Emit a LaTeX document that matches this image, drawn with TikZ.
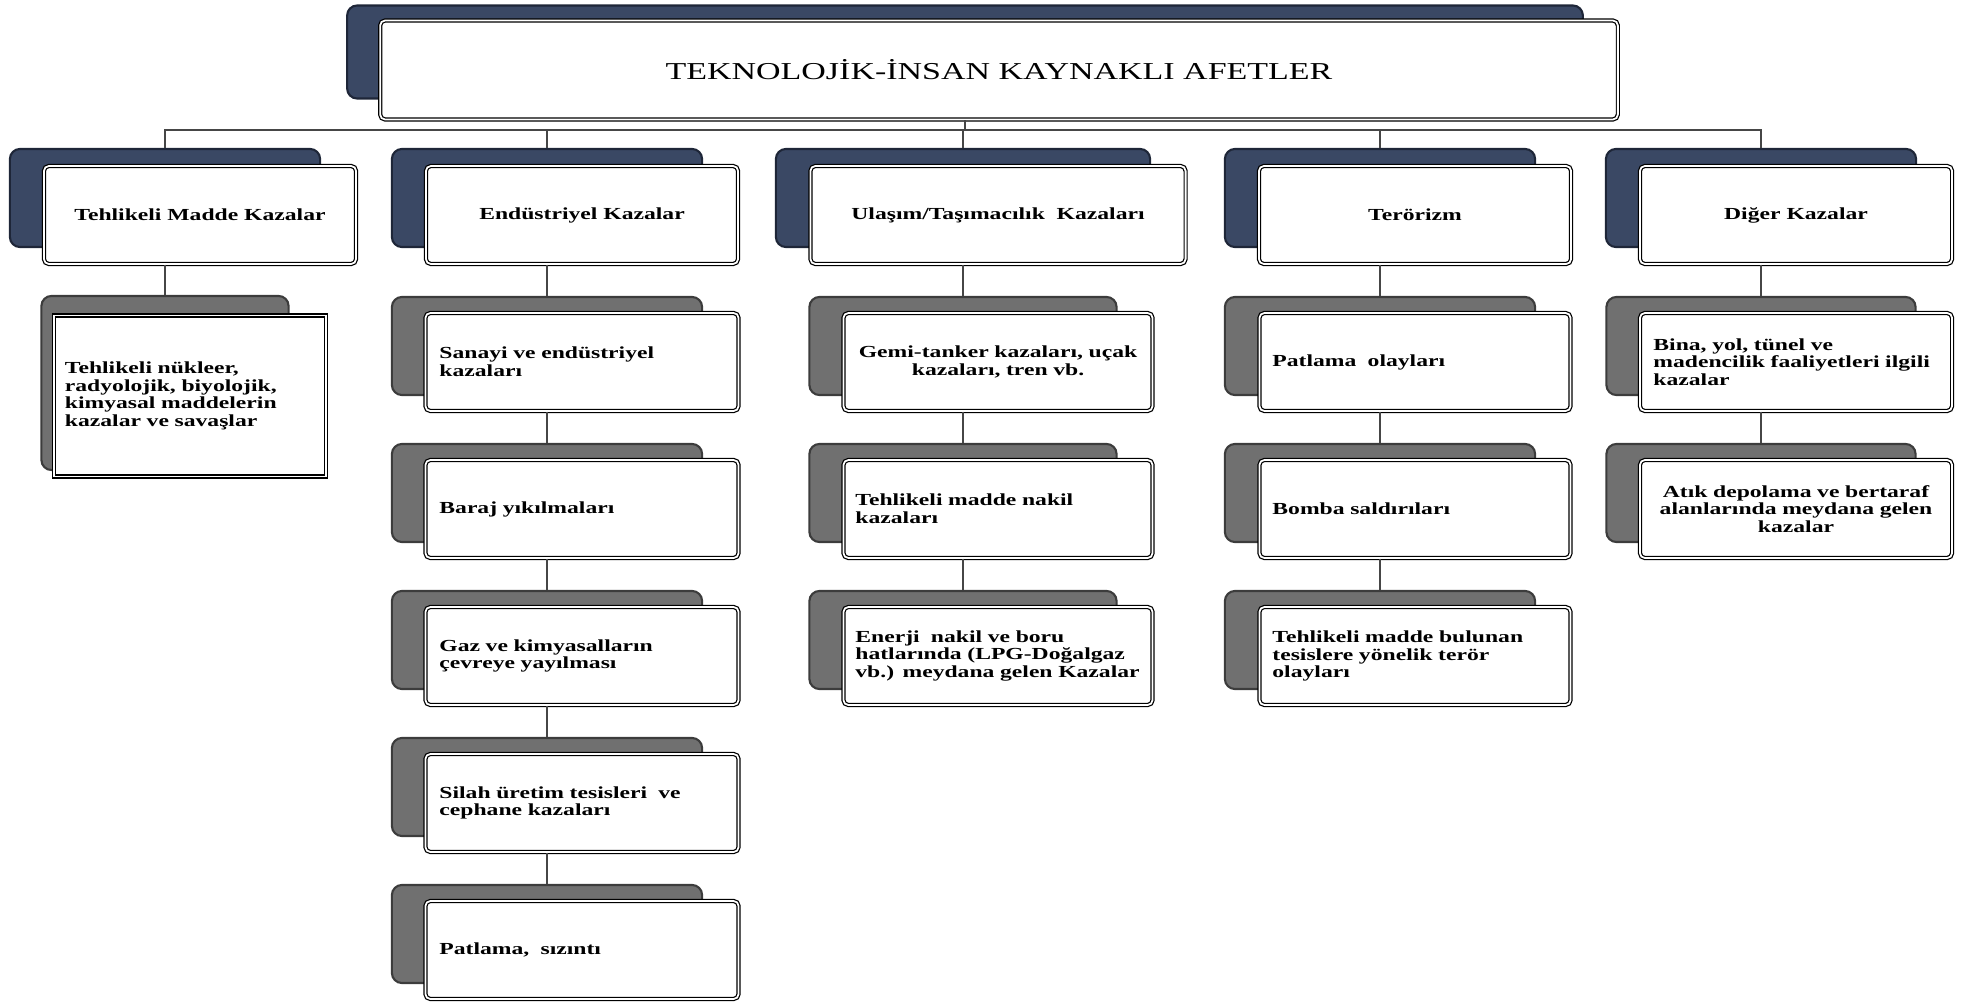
\documentclass[tikz,border=0pt]{standalone}
\usepackage{fontspec}
\setmainfont{Liberation Serif}[FakeStretch=1.4]
\usepackage{tikz}
\usetikzlibrary{positioning, calc}
\definecolor{navy}{RGB}{58,72,100}
\definecolor{navyedge}{RGB}{30,38,56}
\definecolor{subgray}{RGB}{112,112,112}
\definecolor{grayedge}{RGB}{60,60,60}
\definecolor{linkgray}{RGB}{70,70,70}

\begin{document}
\begin{tikzpicture}[x=0.01cm, y=-0.01cm,
    back/.style={rounded corners=0.1cm, minimum height=0.98cm, inner sep=0pt, line width=0.6pt},
    topback/.style={back, fill=navy, draw=navyedge},
    subback/.style={back, fill=subgray, draw=grayedge},
    front/.style={draw=black, double=white, double distance=0.5pt, line width=0.35pt, fill=white, rounded corners=0.05cm, minimum height=0.98cm, inner xsep=0.12cm, inner ysep=0pt},
    head/.style={front, font=\fontsize{4.8}{5.5}\selectfont\bfseries, align=center},
    item/.style={front, font=\fontsize{4.8}{5}\selectfont\bfseries, text width=2.85cm, align=left},
    link/.style={draw=linkgray, line width=0.8pt},
    buslink/.style={draw=linkgray, line width=0.55pt}]
    \useasboundingbox (0,0) rectangle (1966,1003);

    % Title
    \node[topback, minimum width=12.35cm, minimum height=0.93cm] (TB) at (965,52) {};
    \node[front, minimum width=12.37cm, minimum height=0.99cm, font=\fontsize{6.9}{8}\selectfont] (T) at (999,70) {TEKNOLOJİK-İNSAN KAYNAKLI AFETLER};

    % Main groups
    \node[topback, minimum width=3.1cm] (L1) at (165,198) {};
    \node[head, minimum width=3.12cm] (H1) at ([shift={(35,17)}]L1) {Tehlikeli Madde Kazalar};
    \node[topback, minimum width=3.1cm] (L2) at (547,198) {};
    \node[head, minimum width=3.12cm] (H2) at ([shift={(35,17)}]L2) {Endüstriyel Kazalar};
    \node[topback, minimum width=3.74cm] (L3) at (963,198) {};
    \node[head, minimum width=3.75cm] (H3) at ([shift={(35,17)}]L3) {Ulaşım/Taşımacılık\ \ Kazaları};
    \node[topback, minimum width=3.1cm] (L4) at (1380,198) {};
    \node[head, minimum width=3.12cm] (H4) at ([shift={(35,17)}]L4) {Terörizm};
    \node[topback, minimum width=3.1cm] (L5) at (1761,198) {};
    \node[head, minimum width=3.12cm] (H5) at ([shift={(35,17)}]L5) {Diğer Kazalar};

    % Title to groups
    \coordinate (bus) at (965,130);
    \foreach \i in {1,...,5}
      \draw[buslink] (T.south -| TB) |- (bus -| L\i) -- (L\i.north);

    % Tehlikeli madde
    \node[subback, minimum width=2.47cm, minimum height=1.74cm] (G11) at (165,383) {};
    \node[item, sharp corners, text width=2.5cm, minimum height=1.61cm, inner xsep=0.11cm] (S11) at (190,396) {Tehlikeli nükleer,\\radyolojik, biyolojik,\\kimyasal maddelerin\\kazalar ve savaşlar};
    \draw[link] (H1.south -| L1) -- (G11.north);

    % Endustriyel
    \node[subback, minimum width=3.1cm] (G21) at (547,346) {};
    \node[item, minimum width=3.13cm] (S21) at ([shift={(35,16)}]G21) {Sanayi ve endüstriyel\\kazaları};
    \node[subback, minimum width=3.1cm] (G22) at (547,493) {};
    \node[item, minimum width=3.13cm] (S22) at ([shift={(35,16)}]G22) {Baraj yıkılmaları};
    \node[subback, minimum width=3.1cm] (G23) at (547,640) {};
    \node[item, minimum width=3.13cm] (S23) at ([shift={(35,16)}]G23) {Gaz ve kimyasalların\\çevreye yayılması};
    \node[subback, minimum width=3.1cm] (G24) at (547,787) {};
    \node[item, minimum width=3.13cm] (S24) at ([shift={(35,16)}]G24) {Silah üretim tesisleri\ \ ve\\cephane kazaları};
    \node[subback, minimum width=3.1cm] (G25) at (547,934) {};
    \node[item, minimum width=3.13cm] (S25) at ([shift={(35,16)}]G25) {Patlama,\ \ sızıntı};
    \draw[link] (H2.south -| L2) -- (G21.north);
    \draw[link] (S21.south -| G21) -- (G22.north);
    \draw[link] (S22.south -| G22) -- (G23.north);
    \draw[link] (S23.south -| G23) -- (G24.north);
    \draw[link] (S24.south -| G24) -- (G25.north);

    % Ulasim
    \node[subback, minimum width=3.07cm] (G31) at (963,346) {};
    \node[item, align=center, minimum width=3.09cm] (S31) at ([shift={(35,16)}]G31) {Gemi-tanker kazaları, uçak\\kazaları, tren vb.};
    \node[subback, minimum width=3.07cm] (G32) at (963,493) {};
    \node[item, minimum width=3.09cm] (S32) at ([shift={(35,16)}]G32) {Tehlikeli madde nakil\\kazaları};
    \node[subback, minimum width=3.07cm] (G33) at (963,640) {};
    \node[item, minimum width=3.09cm] (S33) at ([shift={(35,16)}]G33) {Enerji\ \ nakil ve boru\\hatlarında (LPG-Doğalgaz\\vb.) meydana gelen Kazalar};
    \draw[link] (H3.south -| L3) -- (G31.north);
    \draw[link] (S31.south -| G31) -- (G32.north);
    \draw[link] (S32.south -| G32) -- (G33.north);

    % Terorizm
    \node[subback, minimum width=3.1cm] (G41) at (1380,346) {};
    \node[item, minimum width=3.11cm] (S41) at ([shift={(35,16)}]G41) {Patlama\ \ olayları};
    \node[subback, minimum width=3.1cm] (G42) at (1380,493) {};
    \node[item, minimum width=3.11cm] (S42) at ([shift={(35,16)}]G42) {Bomba saldırıları};
    \node[subback, minimum width=3.1cm] (G43) at (1380,640) {};
    \node[item, minimum width=3.11cm] (S43) at ([shift={(35,16)}]G43) {Tehlikeli madde bulunan\\tesislere yönelik terör\\olayları};
    \draw[link] (H4.south -| L4) -- (G41.north);
    \draw[link] (S41.south -| G41) -- (G42.north);
    \draw[link] (S42.south -| G42) -- (G43.north);

    % Diger
    \node[subback, minimum width=3.09cm] (G51) at (1761,346) {};
    \node[item, minimum width=3.12cm] (S51) at ([shift={(35,16)}]G51) {Bina, yol, tünel ve\\madencilik faaliyetleri ilgili\\kazalar};
    \node[subback, minimum width=3.09cm] (G52) at (1761,493) {};
    \node[item, align=center, minimum width=3.12cm] (S52) at ([shift={(35,16)}]G52) {Atık depolama ve bertaraf\\alanlarında meydana gelen\\kazalar};
    \draw[link] (H5.south -| L5) -- (G51.north);
    \draw[link] (S51.south -| G51) -- (G52.north);
\end{tikzpicture}
\end{document}
